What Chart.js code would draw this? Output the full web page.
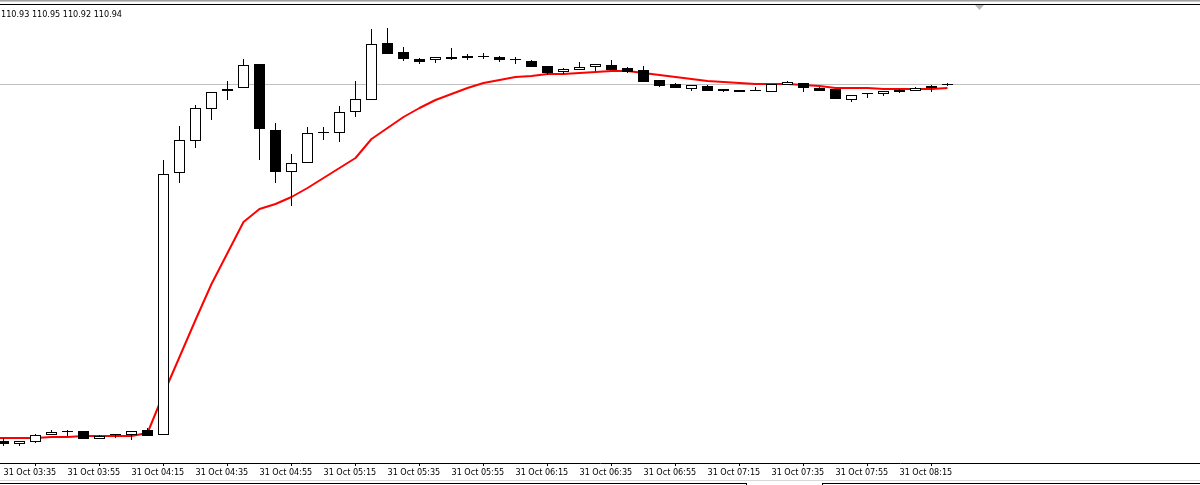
<!DOCTYPE html>
<html><head><meta charset="utf-8">
<script src="https://cdn.jsdelivr.net/npm/chart.js@4.4.1/dist/chart.umd.min.js"></script>
<style>html,body{margin:0;padding:0;background:#fff;overflow:hidden}canvas{display:block}</style>
</head><body>
<canvas id="c" width="1200" height="485"></canvas>
<script>
// ---- data (5-minute candles, 31 Oct) ----
const candleTimes = ["03:35","03:40","03:45","03:50","03:55","04:00","04:05","04:10","04:15","04:20","04:25","04:30","04:35","04:40","04:45","04:50","04:55","05:00","05:05","05:10","05:15","05:20","05:25","05:30","05:35","05:40","05:45","05:50","05:55","06:00","06:05","06:10","06:15","06:20","06:25","06:30","06:35","06:40","06:45","06:50","06:55","07:00","07:05","07:10","07:15","07:20","07:25","07:30","07:35","07:40","07:45","07:50","07:55","08:00","08:05","08:10","08:15","08:20","08:25","08:30"];
const openVals  = [107.37,107.34,107.36,107.43,107.46,107.47,107.39,107.43,107.43,107.48,107.43,110.05,110.37,110.69,110.87,110.90,111.14,110.48,110.06,110.15,110.45,110.45,110.66,110.78,111.35,111.26,111.19,111.18,111.21,111.22,111.22,111.21,111.18,111.17,111.12,111.06,111.08,111.11,111.13,111.10,111.08,110.98,110.94,110.89,110.92,110.89,110.88,110.87,110.86,110.93,110.95,110.90,110.89,110.78,110.84,110.84,110.88,110.87,110.92,110.93];
const highVals  = [107.40,107.37,107.44,107.48,107.48,107.47,107.43,107.44,107.47,107.50,110.18,110.52,110.73,110.86,110.97,111.19,111.14,110.55,110.24,110.51,110.51,110.72,110.97,111.49,111.50,111.31,111.20,111.21,111.30,111.24,111.25,111.22,111.21,111.18,111.12,111.10,111.16,111.14,111.18,111.11,111.12,110.98,110.95,110.93,110.93,110.89,110.88,110.91,110.94,110.97,110.95,110.91,110.89,110.83,110.84,110.87,110.89,110.91,110.93,110.95];
const lowVals   = [107.32,107.32,107.35,107.43,107.42,107.39,107.39,107.40,107.38,107.42,107.43,109.95,110.30,110.58,110.78,110.90,110.18,109.95,109.72,110.15,110.38,110.36,110.61,110.78,111.24,111.17,111.14,111.15,111.18,111.18,111.19,111.16,111.14,111.11,111.03,111.04,111.08,111.07,111.08,111.05,110.96,110.91,110.90,110.87,110.87,110.86,110.86,110.87,110.86,110.93,110.86,110.87,110.79,110.76,110.80,110.82,110.85,110.87,110.86,110.92];
const closeVals = [107.34,107.37,107.43,107.46,107.47,107.39,107.42,107.43,107.47,107.42,110.04,110.38,110.70,110.86,110.89,111.13,110.49,110.06,110.15,110.45,110.45,110.66,110.79,111.34,111.24,111.19,111.16,111.21,111.19,111.20,111.21,111.18,111.18,111.11,111.05,111.09,111.11,111.14,111.08,111.06,110.96,110.92,110.90,110.93,110.87,110.87,110.86,110.87,110.94,110.96,110.90,110.87,110.79,110.83,110.84,110.87,110.86,110.90,110.90,110.94];
const maBefore  = 107.40;   // moving average of the candle just left of the view
const maVals    = [107.40,107.40,107.40,107.41,107.41,107.42,107.42,107.42,107.42,107.45,107.84,108.21,108.58,108.94,109.25,109.56,109.69,109.74,109.81,109.90,110.00,110.10,110.20,110.39,110.50,110.61,110.70,110.78,110.84,110.90,110.95,110.98,111.01,111.02,111.04,111.04,111.05,111.06,111.07,111.07,111.05,111.03,111.01,110.99,110.97,110.96,110.95,110.94,110.94,110.94,110.93,110.92,110.90,110.90,110.90,110.89,110.89,110.89,110.89,110.90];
const tickLabels = ["31 Oct 03:35","31 Oct 03:55","31 Oct 04:15","31 Oct 04:35","31 Oct 04:55","31 Oct 05:15","31 Oct 05:35","31 Oct 05:55","31 Oct 06:15","31 Oct 06:35","31 Oct 06:55","31 Oct 07:15","31 Oct 07:35","31 Oct 07:55","31 Oct 08:15"];
const bidPrice = 110.94;
const yMin = 107.15, yMax = 111.78;

// ---- derived ----
const last = closeVals.length - 1;
const headerText = [openVals[last], highVals[last], lowVals[last], closeVals[last]].map(v => v.toFixed(2)).join(' ');
const tickIndex = tickLabels.map(l => candleTimes.indexOf(l.slice(7)));
const labelAt = {}; tickIndex.forEach((v, j) => { labelAt[v] = tickLabels[j]; });

const PX = 16, FIRST = 3.5, W = 1200;
const xMin = -FIRST / PX, xMax = xMin + W / PX;

const bodyData = openVals.map((o, i) => ({ x: i, y: [o, closeVals[i]] }));
const wickData = highVals.map((h, i) => ({ x: i, y: [lowVals[i], h] }));
const maData = [{ x: -1, y: maBefore }].concat(maVals.map((v, i) => ({ x: i, y: v })));

const FONT = "'DejaVu Sans Condensed', 'Liberation Sans', sans-serif";

const decor = {
  id: 'decor',
  beforeDatasetsDraw(chart) {
    const ctx = chart.ctx, y = chart.scales.y;
    const py = Math.floor(y.getPixelForValue(bidPrice)) + 0.5;
    ctx.save();
    ctx.strokeStyle = '#c0c0c0'; ctx.lineWidth = 1;
    ctx.beginPath(); ctx.moveTo(0, py); ctx.lineTo(W, py); ctx.stroke();
    ctx.restore();
  },
  afterDraw(chart) {
    const ctx = chart.ctx;
    ctx.save();
    // top frame
    ctx.fillStyle = '#a0a0a0'; ctx.fillRect(0, 0, W, 1);
    ctx.fillStyle = '#c8c8c8'; ctx.fillRect(0, 1, W, 1);
    ctx.fillStyle = '#000'; ctx.fillRect(0, 4, W, 1);
    // shift marker
    ctx.fillStyle = '#b8b8b8';
    ctx.beginPath(); ctx.moveTo(975, 5); ctx.lineTo(984, 5); ctx.lineTo(979.5, 10); ctx.closePath(); ctx.fill();
    // header text
    ctx.fillStyle = '#000'; ctx.font = '9px ' + FONT; ctx.textBaseline = 'alphabetic'; ctx.textAlign = 'left';
    ctx.fillText(headerText, 1, 17);
    // bottom tabs
    ctx.fillStyle = '#d8d8d8'; ctx.fillRect(0, 480, W, 1);
    ctx.fillStyle = '#000';
    ctx.fillRect(0, 483, 747, 1);
    ctx.fillRect(746, 483, 1, 2);
    ctx.fillRect(822, 483, W - 822, 1);
    ctx.fillRect(822, 483, 1, 2);
    ctx.restore();
  }
};

new Chart(document.getElementById('c'), {
  type: 'bar',
  data: {
    datasets: [
      { type: 'bar', data: bodyData, order: 1, grouped: false, barThickness: 11, minBarLength: 1,
        borderWidth: 1, borderSkipped: false, borderColor: '#000', inflateAmount: 0,
        backgroundColor: c => (closeVals[c.dataIndex] >= openVals[c.dataIndex] ? '#ffffff' : '#000000') },
      { type: 'bar', data: wickData, order: 2, grouped: false, barThickness: 1, minBarLength: 1,
        borderWidth: 0, inflateAmount: 0, backgroundColor: '#000' },
      { type: 'line', data: maData, order: 3, borderColor: '#ff0000', borderWidth: 2,
        pointRadius: 0, tension: 0, fill: false, borderJoinStyle: 'round' }
    ]
  },
  options: {
    responsive: false, animation: false, devicePixelRatio: 1,
    layout: { padding: 0 },
    plugins: { legend: { display: false }, tooltip: { enabled: false } },
    scales: {
      x: {
        type: 'linear', min: xMin, max: xMax, offset: false,
        grid: { drawOnChartArea: false, drawTicks: true, tickLength: 3, color: '#000', lineWidth: 1 },
        border: { display: true, color: '#000', width: 1 },
        ticks: { align: 'start', autoSkip: false, maxRotation: 0, minRotation: 0, padding: 1,
                 color: '#000', font: { family: FONT, size: 9 },
                 callback: v => (labelAt[v] !== undefined ? labelAt[v] : '') },
        afterBuildTicks: s => { s.ticks = tickIndex.map(v => ({ value: v })); },
        afterFit: s => { s.height = 22; }
      },
      y: { type: 'linear', display: false, min: yMin, max: yMax }
    }
  },
  plugins: [decor]
});
</script>
</body></html>
